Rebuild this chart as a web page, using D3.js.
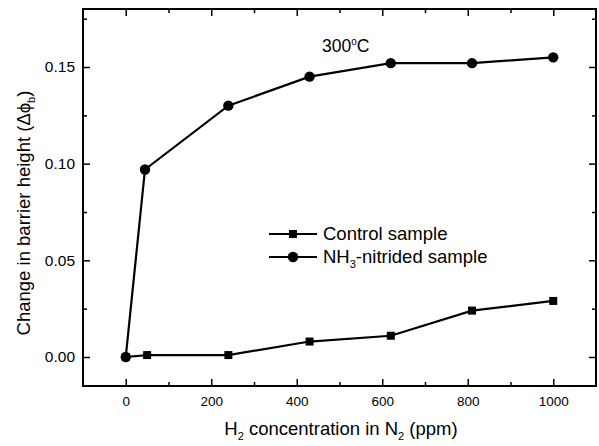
<!DOCTYPE html>
<html><head><meta charset="utf-8">
<script src="https://cdn.jsdelivr.net/npm/d3@7"></script>
<style>
html,body{margin:0;padding:0;background:#fff;}
text{font-family:"Liberation Sans",Arial,Helvetica,sans-serif;fill:#000;}
</style></head>
<body><svg id="c" width="599" height="446"></svg>
<script>
// ---- data ----
const controlX = [0, 50, 240, 430, 620, 810, 1000];
const controlY = [0.000, 0.001, 0.001, 0.008, 0.011, 0.024, 0.029];
const nitridedX = [0, 45, 240, 430, 620, 810, 1000];
const nitridedY = [0.000, 0.097, 0.130, 0.145, 0.152, 0.152, 0.155];
const xTicks = [0, 200, 400, 600, 800, 1000];
const xMinor = [100, 300, 500, 700, 900];
const yTicks = [0.00, 0.05, 0.10, 0.15];
const yMinor = [0.025, 0.075, 0.125, 0.175];
const seriesNames = ["Control sample", "NH3-nitrided sample"];

const svg = d3.select("#c");
const L = 83, R = 596, T = 9, B = 386;
const x = d3.scaleLinear().domain([-100, 1100]).range([L, R]);
const y = d3.scaleLinear().domain([-0.015, 0.18]).range([B, T]);

function styleAxis(g){
  g.select(".domain").remove();
  g.selectAll(".tick line").attr("stroke","#000").attr("stroke-width",1.5);
}
// bottom
svg.append("g").attr("transform",`translate(0,${B})`)
  .call(d3.axisBottom(x).tickValues(xTicks).tickSizeInner(-7).tickSizeOuter(0).tickPadding(10).tickFormat(d3.format("d")))
  .call(styleAxis).call(g=>g.selectAll("text").attr("font-size",13.5));
svg.append("g").attr("transform",`translate(0,${B})`)
  .call(d3.axisBottom(x).tickValues(xMinor).tickSizeInner(-4).tickSizeOuter(0).tickFormat(""))
  .call(styleAxis);
// top
svg.append("g").attr("transform",`translate(0,${T})`)
  .call(d3.axisTop(x).tickValues(xTicks).tickSizeInner(-7).tickSizeOuter(0).tickFormat(""))
  .call(styleAxis);
svg.append("g").attr("transform",`translate(0,${T})`)
  .call(d3.axisTop(x).tickValues(xMinor).tickSizeInner(-4).tickSizeOuter(0).tickFormat(""))
  .call(styleAxis);
// left
svg.append("g").attr("transform",`translate(${L},0)`)
  .call(d3.axisLeft(y).tickValues(yTicks).tickSizeInner(-7).tickSizeOuter(0).tickPadding(8).tickFormat(d3.format(".2f")))
  .call(styleAxis).call(g=>g.selectAll("text").attr("font-size",15.5));
svg.append("g").attr("transform",`translate(${L},0)`)
  .call(d3.axisLeft(y).tickValues(yMinor).tickSizeInner(-4).tickSizeOuter(0).tickFormat(""))
  .call(styleAxis);
// right
svg.append("g").attr("transform",`translate(${R},0)`)
  .call(d3.axisRight(y).tickValues(yTicks).tickSizeInner(-7).tickSizeOuter(0).tickFormat(""))
  .call(styleAxis);
svg.append("g").attr("transform",`translate(${R},0)`)
  .call(d3.axisRight(y).tickValues(yMinor).tickSizeInner(-4).tickSizeOuter(0).tickFormat(""))
  .call(styleAxis);

// frame
svg.append("rect").attr("x",L).attr("y",T).attr("width",R-L).attr("height",B-T)
  .attr("fill","none").attr("stroke","#000").attr("stroke-width",2);

// lines
const line = d3.line().x(d=>x(d[0])).y(d=>y(d[1]));
const ctrl = controlX.map((v,i)=>[v,controlY[i]]);
const nit = nitridedX.map((v,i)=>[v,nitridedY[i]]);
svg.append("path").datum(ctrl).attr("d",line).attr("fill","none").attr("stroke","#000").attr("stroke-width",2.2);
svg.append("path").datum(nit).attr("d",line).attr("fill","none").attr("stroke","#000").attr("stroke-width",2.2);
svg.selectAll(".sq").data(ctrl).enter().append("rect")
  .attr("x",d=>x(d[0])-4).attr("y",d=>y(d[1])-4).attr("width",8).attr("height",8).attr("fill","#000");
svg.selectAll(".ci").data(nit).enter().append("circle")
  .attr("cx",d=>x(d[0])).attr("cy",d=>y(d[1])).attr("r",5.2).attr("fill","#000");

// legend
const lg = svg.append("g");
[[234,"sq"],[257,"ci"]].forEach(([ly,m],i)=>{
  lg.append("line").attr("x1",269).attr("x2",317).attr("y1",ly).attr("y2",ly).attr("stroke","#000").attr("stroke-width",2.2);
  if(m==="sq") lg.append("rect").attr("x",289).attr("y",ly-4).attr("width",8).attr("height",8).attr("fill","#000");
  else lg.append("circle").attr("cx",293).attr("cy",ly).attr("r",5.2).attr("fill","#000");
});
lg.append("text").attr("x",323).attr("y",240).attr("font-size",18.5).text(seriesNames[0]);
const t2 = lg.append("text").attr("x",323).attr("y",263).attr("font-size",18.5);
t2.append("tspan").text("NH");
t2.append("tspan").attr("font-size",11).attr("dy",5).text("3");
t2.append("tspan").attr("dy",-5).text("-nitrided sample");

// annotation
const ann = svg.append("text").attr("x",322).attr("y",52).attr("font-size",17.5);
ann.append("tspan").text("300");
ann.append("tspan").attr("font-size",10).attr("dy",-7).text("o");
ann.append("tspan").attr("dy",7).text("C");

// x title
const xt = svg.append("text").attr("x",341).attr("y",435).attr("text-anchor","middle").attr("font-size",18.5);
xt.append("tspan").text("H");
xt.append("tspan").attr("font-size",11).attr("dy",5).text("2");
xt.append("tspan").attr("dy",-5).text(" concentration in N");
xt.append("tspan").attr("font-size",11).attr("dy",5).text("2");
xt.append("tspan").attr("dy",-5).text(" (ppm)");

// y title
const yt = svg.append("text").attr("transform","translate(30,213) rotate(-90)").attr("text-anchor","middle").attr("font-size",18.5);
yt.append("tspan").text("Change in barrier height (\u0394\u03d5");
yt.append("tspan").attr("font-size",11).attr("dy",5).text("b");
yt.append("tspan").attr("dy",-5).text(")");
</script></body></html>
